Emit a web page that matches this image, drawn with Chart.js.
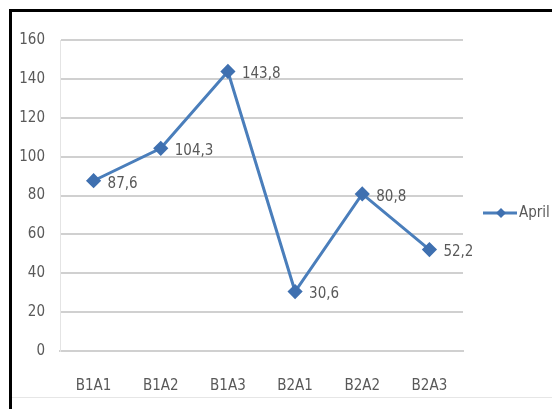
<!DOCTYPE html>
<html>
<head>
<meta charset="utf-8">
<script src="https://cdn.jsdelivr.net/npm/chart.js@4"></script>
<style>
  html, body { margin: 0; padding: 0; background: #fff; }
  body { width: 552px; height: 409px; overflow: hidden; position: relative; }
  #frame {
    position: absolute; left: 9px; top: 9px; width: 560px; height: 420px;
    border-top: 3px solid #000; border-left: 3px solid #000;
  }
  #bottomLine { position: absolute; left: 12px; top: 397px; width: 540px; height: 1px; background: #e6e6e6; }
  #wrap { position: absolute; left: 12px; top: 12px; width: 540px; height: 385px; }
</style>
</head>
<body>
<div id="frame"></div>
<div id="bottomLine"></div>
<div id="wrap"><canvas id="chart"></canvas></div>
<script>
// データ
const categories = ['B1A1', 'B1A2', 'B1A3', 'B2A1', 'B2A2', 'B2A3'];
const aprilValues = [87.6, 104.3, 143.8, 30.6, 80.8, 52.2];
const seriesName = 'April';
const yTicks = [0, 20, 40, 60, 80, 100, 120, 140, 160];

const FONT = '"Liberation Sans Narrow", "DejaVu Sans Condensed", sans-serif';
const TEXT_COLOR = '#595959';
const LINE_COLOR = '#4a7ebb';
const MARK_COLOR = '#3f70b0';

// 値ラベル（小数点はカンマ）
const valueLabels = {
    id: 'valueLabels',
    afterDatasetsDraw(chart) {
        const ctx = chart.ctx;
        const meta = chart.getDatasetMeta(0);
        ctx.save();
        ctx.font = '15px ' + FONT;
        ctx.fillStyle = TEXT_COLOR;
        ctx.textAlign = 'left';
        ctx.textBaseline = 'middle';
        meta.data.forEach((pt, i) => {
            const txt = aprilValues[i].toFixed(1).replace('.', ',');
            ctx.fillText(txt, pt.x + 14, pt.y + 3);
        });
        ctx.restore();
    }
};

// 凡例（線＋ひし形）
const lineLegend = {
    id: 'lineLegend',
    afterDraw(chart) {
        const ctx = chart.ctx;
        const area = chart.chartArea;
        const x0 = area.right + 20;
        const y = 201;
        ctx.save();
        ctx.strokeStyle = LINE_COLOR;
        ctx.lineWidth = 3;
        ctx.beginPath();
        ctx.moveTo(x0, y);
        ctx.lineTo(x0 + 34, y);
        ctx.stroke();
        ctx.fillStyle = MARK_COLOR;
        const cx = x0 + 18, r = 5;
        ctx.beginPath();
        ctx.moveTo(cx, y - r);
        ctx.lineTo(cx + r, y);
        ctx.lineTo(cx, y + r);
        ctx.lineTo(cx - r, y);
        ctx.closePath();
        ctx.fill();
        ctx.font = '15px ' + FONT;
        ctx.fillStyle = TEXT_COLOR;
        ctx.textAlign = 'left';
        ctx.textBaseline = 'middle';
        ctx.fillText(seriesName, x0 + 36, y);
        ctx.restore();
    }
};

new Chart(document.getElementById('chart'), {
    type: 'line',
    data: {
        labels: categories,
        datasets: [{
            label: seriesName,
            data: aprilValues,
            borderColor: LINE_COLOR,
            borderWidth: 3,
            backgroundColor: MARK_COLOR,
            pointStyle: 'rectRot',
            pointRadius: 5.5,
            pointBorderColor: MARK_COLOR,
            pointBackgroundColor: MARK_COLOR,
            tension: 0
        }]
    },
    options: {
        responsive: true,
        maintainAspectRatio: false,
        animation: false,
        layout: { padding: { top: 28, right: 89, left: 0, bottom: 0 } },
        plugins: {
            legend: { display: false },
            tooltip: { enabled: false }
        },
        scales: {
            x: {
                offset: true,
                grid: { display: false, drawTicks: false },
                border: { display: true, color: '#d0d0d0', width: 2 },
                ticks: { color: TEXT_COLOR, font: { family: FONT, size: 15 }, padding: 26, maxRotation: 0 },
                afterFit(s) { s.height = 46; }
            },
            y: {
                min: 0,
                max: 160,
                afterBuildTicks(s) { s.ticks = yTicks.map(v => ({ value: v })); },
                grid: { color: '#d0d0d0', lineWidth: 2, drawTicks: false },
                border: { display: true, color: '#e4e4e4', width: 1 },
                ticks: { color: TEXT_COLOR, font: { family: FONT, size: 15 }, padding: 15 },
                afterFit(s) { s.width = 48; }
            }
        }
    },
    plugins: [valueLabels, lineLegend]
});
</script>
</body>
</html>
